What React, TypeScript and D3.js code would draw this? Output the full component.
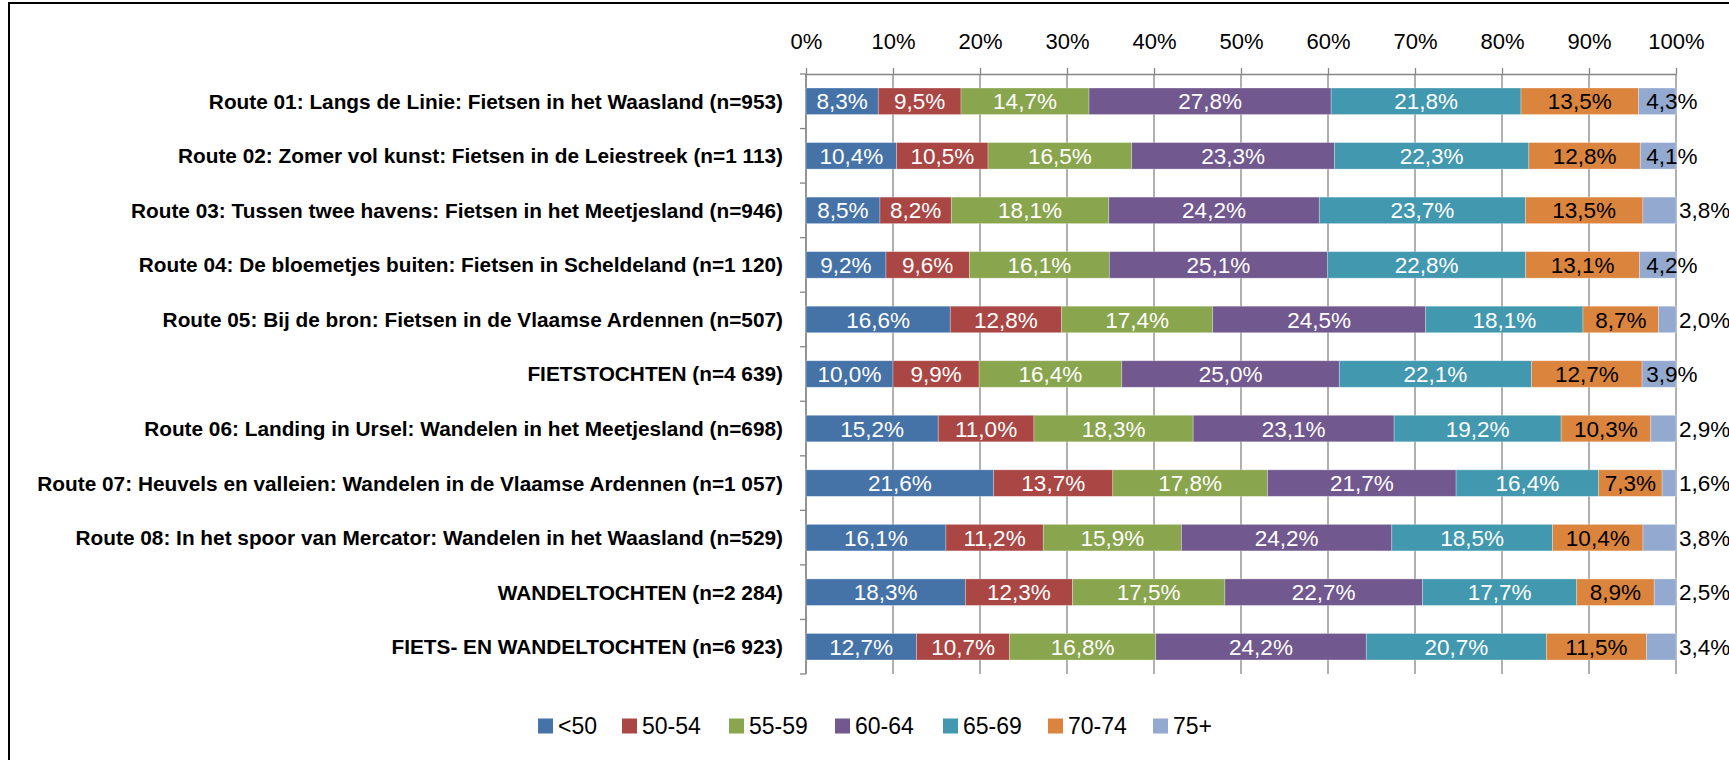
import { useEffect, useRef } from 'react'
import * as d3 from 'd3'

const categories = [
  'Route 01: Langs de Linie: Fietsen in het Waasland (n=953)',
  'Route 02: Zomer vol kunst: Fietsen in de Leiestreek (n=1 113)',
  'Route 03: Tussen twee havens: Fietsen in het Meetjesland (n=946)',
  'Route 04: De bloemetjes buiten: Fietsen in Scheldeland (n=1 120)',
  'Route 05: Bij de bron: Fietsen in de Vlaamse Ardennen (n=507)',
  'FIETSTOCHTEN (n=4 639)',
  'Route 06: Landing in Ursel: Wandelen in het Meetjesland (n=698)',
  'Route 07: Heuvels en valleien: Wandelen in de Vlaamse Ardennen (n=1 057)',
  'Route 08: In het spoor van Mercator: Wandelen in het Waasland (n=529)',
  'WANDELTOCHTEN (n=2 284)',
  'FIETS- EN WANDELTOCHTEN (n=6 923)',
]

const seriesNames = ['<50', '50-54', '55-59', '60-64', '65-69', '70-74', '75+']

const under50 = [8.3, 10.4, 8.5, 9.2, 16.6, 10.0, 15.2, 21.6, 16.1, 18.3, 12.7]
const age50_54 = [9.5, 10.5, 8.2, 9.6, 12.8, 9.9, 11.0, 13.7, 11.2, 12.3, 10.7]
const age55_59 = [14.7, 16.5, 18.1, 16.1, 17.4, 16.4, 18.3, 17.8, 15.9, 17.5, 16.8]
const age60_64 = [27.8, 23.3, 24.2, 25.1, 24.5, 25.0, 23.1, 21.7, 24.2, 22.7, 24.2]
const age65_69 = [21.8, 22.3, 23.7, 22.8, 18.1, 22.1, 19.2, 16.4, 18.5, 17.7, 20.7]
const age70_74 = [13.5, 12.8, 13.5, 13.1, 8.7, 12.7, 10.3, 7.3, 10.4, 8.9, 11.5]
const age75plus = [4.3, 4.1, 3.8, 4.2, 2.0, 3.9, 2.9, 1.6, 3.8, 2.5, 3.4]

const seriesValues = [under50, age50_54, age55_59, age60_64, age65_69, age70_74, age75plus]

const tickValues = [0, 0.1, 0.2, 0.3, 0.4, 0.5, 0.6, 0.7, 0.8, 0.9, 1]

const colors = ['#4572A7', '#AA4643', '#89A54E', '#71588F', '#4198AF', '#DB843D', '#93A9CF']
const labelColors = ['#fff', '#fff', '#fff', '#fff', '#fff', '#000', '#000']

const FONT = "'Liberation Sans', Arial, sans-serif"
const fmt = (v: number) => v.toFixed(1).replace('.', ',') + '%'

export default function App() {
  const ref = useRef<SVGSVGElement>(null)

  useEffect(() => {
    const width = 1729
    const height = 760
    const margin = { top: 74, left: 806, right: 53, bottom: 86 }
    const svg = d3.select(ref.current)
    svg.selectAll('*').remove()
    svg.attr('viewBox', `0 0 ${width} ${height}`)

    svg.append('rect').attr('width', width).attr('height', height).attr('fill', '#fff')
    // outer chart frame
    svg.append('rect')
      .attr('x', 9).attr('y', 3).attr('width', width + 20).attr('height', height + 20)
      .attr('fill', 'none').attr('stroke', '#000').attr('stroke-width', 2)

    const x = d3.scaleLinear().domain([0, 1]).range([margin.left, width - margin.right])
    const y = d3.scaleBand().domain(categories).range([margin.top, height - margin.bottom]).paddingInner(0.514).paddingOuter(0.257)

    const grid = '#868686'
    // gridlines
    svg.append('g').selectAll('line').data(tickValues).enter().append('line')
      .attr('x1', d => x(d)).attr('x2', d => x(d))
      .attr('y1', margin.top).attr('y2', height - margin.bottom)
      .attr('stroke', grid).attr('stroke-width', 1.3)

    // top axis
    const top = svg.append('g').attr('transform', `translate(0,${margin.top})`)
      .call(d3.axisTop(x).tickValues(tickValues).tickFormat(d => `${Math.round(+d * 100)}%`).tickSize(6).tickSizeOuter(0))
    top.select('.domain').attr('stroke', grid).attr('stroke-width', 1.3)
    top.selectAll('.tick line').attr('stroke', grid).attr('stroke-width', 1.3)
    top.selectAll('.tick text')
      .attr('y', -25).attr('fill', '#000')
      .style('font-family', FONT).style('font-size', '22px')

    // left axis with ticks at band boundaries
    const step = y.step()
    const bounds = d3.range(categories.length + 1).map(i => margin.top + i * step)
    svg.append('line')
      .attr('x1', x(0)).attr('x2', x(0)).attr('y1', margin.top).attr('y2', height - margin.bottom)
      .attr('stroke', grid).attr('stroke-width', 1.3)
    svg.append('g').selectAll('line').data(bounds).enter().append('line')
      .attr('x1', x(0) - 6).attr('x2', x(0)).attr('y1', d => d).attr('y2', d => d)
      .attr('stroke', grid).attr('stroke-width', 1.3)

    // stacked data (normalised, 100% stacked)
    const rows = categories.map((c, i) => {
      const vals = seriesValues.map(s => s[i])
      const total = d3.sum(vals)
      let acc = 0
      return vals.map((v, k) => {
        const seg = { cat: c, k, v, x0: acc / total, x1: (acc + v) / total }
        acc += v
        return seg
      })
    })
    const segs = rows.flat()
    const last = seriesNames.length - 1

    svg.append('g').selectAll('rect').data(segs).enter().append('rect')
      .attr('x', d => x(d.x0)).attr('width', d => x(d.x1) - x(d.x0))
      .attr('y', d => y(d.cat)!).attr('height', y.bandwidth())
      .attr('fill', d => colors[d.k])
      .attr('stroke', 'rgba(255,255,255,0.35)').attr('stroke-width', 0.8)

    svg.append('g').selectAll('text').data(segs).enter().append('text')
      .attr('x', d => {
        if (d.k === last) return d.v >= 3.85 ? x(1) - 4 : x(1) + 3
        return (x(d.x0) + x(d.x1)) / 2
      })
      .attr('text-anchor', d => (d.k === last && d.v < 3.85 ? 'start' : 'middle'))
      .attr('y', d => y(d.cat)! + y.bandwidth() / 2)
      .attr('dy', '0.36em')
      .attr('fill', d => labelColors[d.k])
      .style('font-family', FONT).style('font-size', '22.5px')
      .text(d => fmt(d.v))

    // category labels
    svg.append('g').selectAll('text').data(categories).enter().append('text')
      .attr('x', x(0) - 23).attr('y', d => y(d)! + y.bandwidth() / 2)
      .attr('dy', '0.36em').attr('text-anchor', 'end')
      .style('font-family', FONT).style('font-size', '20.8px').style('font-weight', 'bold')
      .text(d => d)

    // legend
    const legendX = d3.scaleOrdinal<string, number>().domain(seriesNames).range([538, 622, 729, 835, 943, 1048, 1153])
    const legend = svg.append('g').attr('transform', 'translate(0,726)')
    const items = legend.selectAll('g').data(seriesNames).enter().append('g')
      .attr('transform', d => `translate(${legendX(d)},0)`)
    items.append('rect').attr('x', 0).attr('y', -7.5).attr('width', 15).attr('height', 15)
      .attr('fill', (_, i) => colors[i])
    items.append('text').attr('x', 20).attr('dy', '0.36em')
      .style('font-family', FONT).style('font-size', '23px')
      .text(d => d)
  }, [])

  return <svg ref={ref} width={1729} height={760} style={{ position: 'absolute', left: 0, top: 0, display: 'block' }} />
}
